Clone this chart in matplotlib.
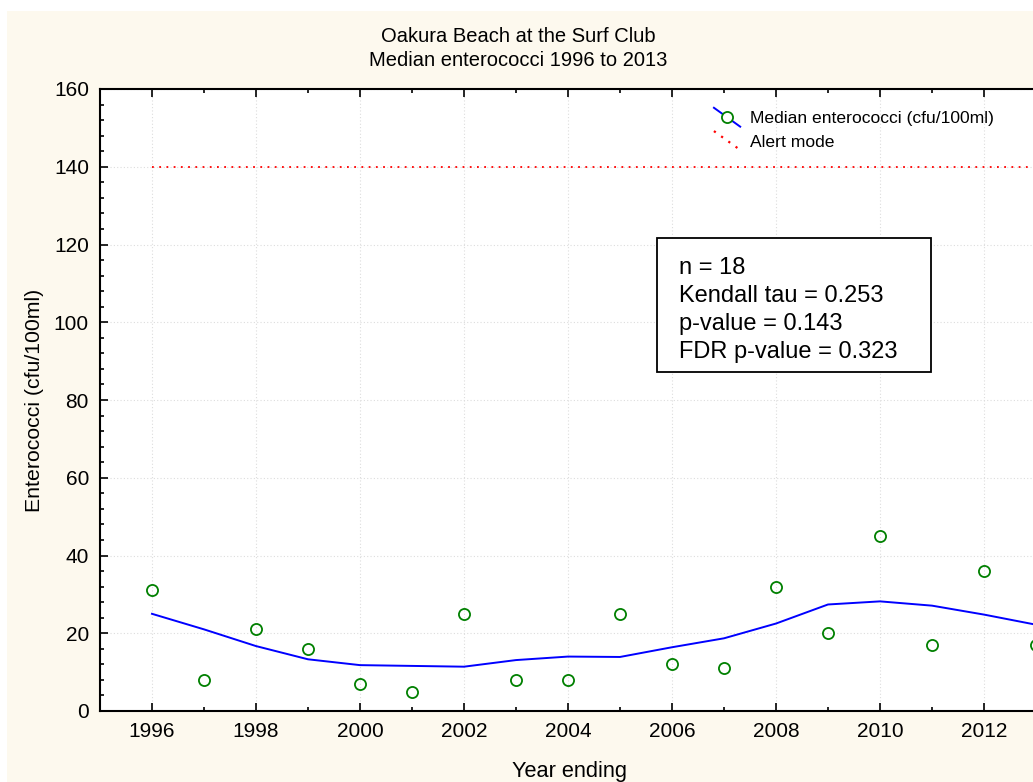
import matplotlib
matplotlib.use("Agg")
import matplotlib.pyplot as plt
from matplotlib.patches import Rectangle
from matplotlib.lines import Line2D
from matplotlib.legend_handler import HandlerBase
from matplotlib.ticker import MultipleLocator

plt.rcParams["font.family"] = ["Liberation Sans", "DejaVu Sans"]

CREAM = "#fdf9ee"
GREEN = "#008000"
BLUE = "#0000ff"
RED = "#ff0000"

years = list(range(1996, 2014))
medians = [31, 8, 21, 16, 7, 5, 25, 8, 8, 25, 12, 11, 32, 20, 45, 17, 36, 17]
smooth = [25.0, 21.0, 16.7, 13.3, 11.8, 11.6, 11.4, 13.1, 14.0, 13.9,
          16.4, 18.7, 22.5, 27.4, 28.2, 27.1, 24.8, 22.2]
alert_level = 140
xtick_years = list(range(1996, 2013, 2))
stats_lines = ["n = 18", "Kendall tau = 0.253", "p-value = 0.143", "FDR p-value = 0.323"]


class DiagHandler(HandlerBase):
    # slanted legend key, like the original software draws it
    def create_artists(self, legend, orig, xdescent, ydescent, width, height, fontsize, trans):
        x0, x1 = -xdescent, -xdescent + width
        y0, y1 = -ydescent + height * 1.15, -ydescent - height * 0.15
        line = Line2D([x0, x1], [y0, y1])
        line.update_from(orig)
        line.set_marker("None")
        line.set_transform(trans)
        arts = [line]
        if orig.get_marker() not in (None, "None", ""):
            arts.append(Line2D([(x0 + x1) / 2], [(y0 + y1) / 2], ls="none",
                               marker=orig.get_marker(), ms=orig.get_markersize(),
                               mfc="white", mec=orig.get_markeredgecolor(),
                               mew=orig.get_markeredgewidth(), transform=trans))
        return arts


fig = plt.figure(figsize=(10.33, 7.82), dpi=100)
fig.patch.set_facecolor("white")
fig.patches.append(Rectangle((7/1033, 0), 1, 1 - 11/782, transform=fig.transFigure,
                             facecolor=CREAM, edgecolor="none", zorder=-5))

# axes run past the right edge of the figure (the reference is cropped there)
ax = fig.add_axes([100/1033, 1 - 711/782, 988/1033, 622/782])
ax.set_facecolor("white")

ax.plot(years, smooth, color=BLUE, lw=1.4, zorder=3)
ax.plot(years, medians, ls="none", marker="o", ms=8, mfc="none", mec=GREEN, mew=1.3, zorder=4)
ax.plot([years[0], years[-1]], [alert_level, alert_level], color=RED, lw=1.3,
        ls=(0, (1, 3)), zorder=3)

ax.set_xlim(1995, 2014)
ax.set_ylim(0, 160)
ax.set_xticks(xtick_years)
ax.xaxis.set_minor_locator(MultipleLocator(1))
ax.yaxis.set_major_locator(MultipleLocator(20))
ax.yaxis.set_minor_locator(MultipleLocator(4))
ax.tick_params(which="both", direction="in", top=True, labelsize=15, width=1.2, pad=8)
ax.tick_params(which="major", length=6)
ax.tick_params(which="minor", length=3)
ax.grid(True, which="major", color="#dddddd", lw=0.8, ls=(0, (1, 2)))
ax.set_axisbelow(True)
for s in ["left", "bottom", "top"]:
    ax.spines[s].set_linewidth(1.5)
ax.spines["right"].set_visible(False)

# legend
h1 = Line2D([], [], color=BLUE, marker="o", ms=8, mec=GREEN, mew=1.3, lw=1.4)
h2 = Line2D([], [], color=RED, lw=1.6, ls=(0, (1, 3)))
ax.legend([h1, h2], ["Median enterococci (cfu/100ml)", "Alert mode"],
          handler_map={Line2D: DiagHandler()},
          loc="upper left", bbox_to_anchor=(0.609, 0.986), frameon=False,
          fontsize=12.6, handlelength=1.5, handleheight=0.9, handletextpad=0.55,
          labelspacing=0.4, borderpad=0.2)

# stats box
ax.add_patch(Rectangle((0.5638, 0.545), 0.2773, 0.2155, transform=ax.transAxes,
                       facecolor="white", edgecolor="black", lw=1.3, zorder=5))
ax.text(0.586, 0.730, "\n".join(stats_lines), transform=ax.transAxes, fontsize=17,
        va="top", ha="left", linespacing=1.36, zorder=6)

fig.text(518/1033, 1 - 37/782, "Oakura Beach at the Surf Club", ha="center", va="center", fontsize=14.5)
fig.text(518/1033, 1 - 61/782, "Median enterococci 1996 to 2013", ha="center", va="center", fontsize=14.5)
fig.text(35/1033, 1 - 400/782, "Enterococci (cfu/100ml)", rotation=90, ha="center", va="center", fontsize=15.3)
fig.text(569/1033, 1 - 771/782, "Year ending", ha="center", va="center", fontsize=15.7)

fig.savefig("out.png", dpi=100, facecolor="white")
